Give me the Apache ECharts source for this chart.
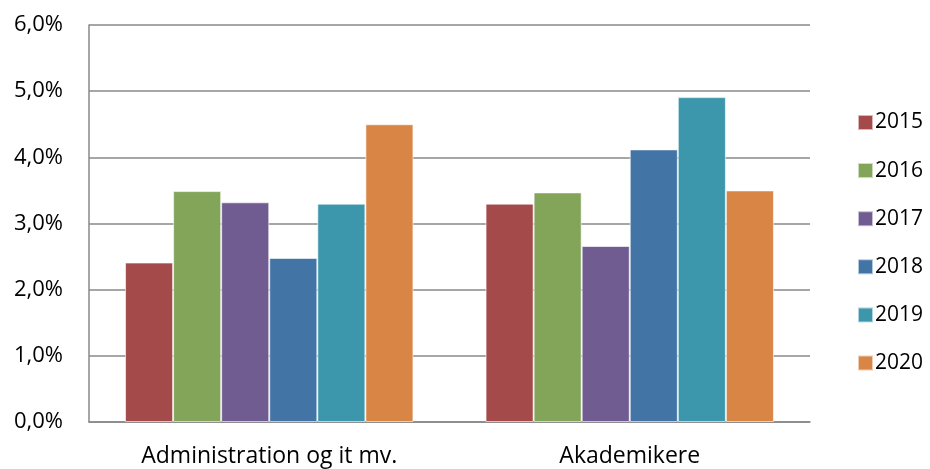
<!DOCTYPE html>
<html><head><meta charset="utf-8">
<script src="https://cdn.jsdelivr.net/npm/echarts@6/dist/echarts.min.js"></script>
<style>html,body{margin:0;padding:0;background:#fff}#c{width:930px;height:469px}</style>
</head><body><div id="c"></div>
<script>
const categories = ["Administration og it mv.", "Akademikere"];
const years = ["2015", "2016", "2017", "2018", "2019", "2020"];
const v2015 = [2.41, 3.30];
const v2016 = [3.49, 3.47];
const v2017 = [3.32, 2.66];
const v2018 = [2.48, 4.12];
const v2019 = [3.30, 4.91];
const v2020 = [4.50, 3.50];
const yTicks = [0, 1, 2, 3, 4, 5, 6];
const colors = ["#A54A4A", "#82A55A", "#705C91", "#4274A6", "#3C97AC", "#D98546"];
const seriesValues = [v2015, v2016, v2017, v2018, v2019, v2020];
const FONT = "Open Sans";
const chart = echarts.init(document.getElementById('c'), null, {renderer: 'canvas'});
chart.setOption({
  animation: false,
  backgroundColor: '#fff',
  color: colors,
  grid: {left: 89, right: 120, top: 25, bottom: 47},
  legend: {
    orient: 'vertical', left: 852, top: 107,
    itemWidth: 15, itemHeight: 15, itemGap: 27.1,
    icon: 'rect',
    textStyle: {fontFamily: FONT, fontSize: 21, color: '#000', lineHeight: 20, padding: [0,0,0,-3]},
    data: years
  },
  xAxis: {
    type: 'category', data: categories,
    axisLine: {show: true, lineStyle: {color: '#888', width: 1.5}},
    axisTick: {show: false},
    axisLabel: {fontFamily: FONT, fontSize: 23, color: '#000', margin: 23}
  },
  yAxis: {
    type: 'value', min: yTicks[0], max: yTicks[yTicks.length-1], interval: 1,
    axisLine: {show: true, lineStyle: {color: '#888', width: 1.5}},
    axisTick: {show: false},
    splitLine: {lineStyle: {color: '#888', width: 1.5}},
    axisLabel: {fontFamily: FONT, fontSize: 22, color: '#000', margin: 26,
      formatter: v => v.toFixed(1).replace('.', ',') + '%'}
  },
  series: years.map((y, i) => ({
    name: y, type: 'bar', data: seriesValues[i],
    barGap: '0%', barCategoryGap: '20%',
    itemStyle: {color: colors[i], borderColor: 'rgba(255,255,255,0.6)', borderWidth: 1}
  }))
});
</script></body></html>
